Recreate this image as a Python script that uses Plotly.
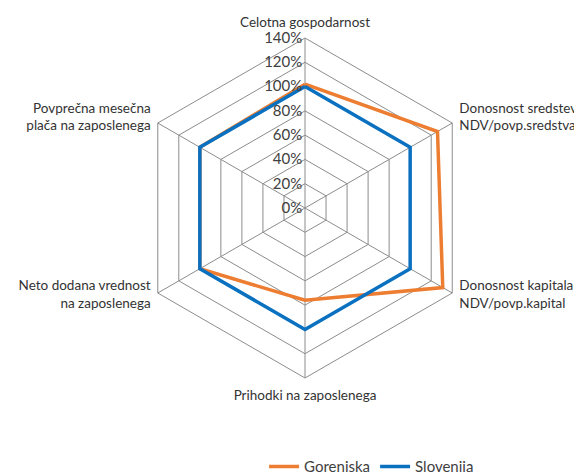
import plotly.graph_objects as go

NB = "\u00a0"  # blank line helper to nudge multi-line tick labels vertically
categories = [
    "Celotna gospodarnost",
    NB + "<br>Donosnost sredstev-<br>NDV/povp.sredstva",
    "Donosnost kapitala-<br>NDV/povp.kapital<br>" + NB + "<br>" + NB + "<br>" + NB,
    "Prihodki na zaposlenega",
    "Neto dodana vrednost<br>na zaposlenega<br>" + NB + "<br>" + NB + "<br>" + NB,
    NB + "<br>Povprečna mesečna<br>plača na zaposlenega",
]
gorenjska = [102, 126, 131, 76, 100, 100]
slovenija = [100, 100, 100, 100, 100, 100]

def closed(v):
    return v + v[:1]

fig = go.Figure()
fig.add_trace(go.Scatterpolar(
    r=closed(gorenjska), theta=closed(categories), mode="lines", name="Gorenjska",
    line=dict(color="#ED7D31", width=3.5),
))
fig.add_trace(go.Scatterpolar(
    r=closed(slovenija), theta=closed(categories), mode="lines", name="Slovenija",
    line=dict(color="#0A70C0", width=3.5),
))

# page body adds an 8px offset, so place the polar area 8px up/left
W, H = 582, 472
cx, cy, R = 297, 200, 170
fig.update_layout(
    width=W, height=H,
    margin=dict(l=0, r=0, t=0, b=0, autoexpand=False),
    paper_bgcolor="white",
    font=dict(family="Lato, Open Sans, sans-serif", size=14, color="#404040"),
    polar=dict(
        domain=dict(x=[(cx - R) / W, (cx + R) / W], y=[(H - cy - R) / H, (H - cy + R) / H]),
        gridshape="linear",
        bgcolor="white",
        radialaxis=dict(
            range=[0, 140], dtick=20, ticksuffix="%", angle=90, tickangle=90,
            side="counterclockwise",
            showline=False, gridcolor="#8c8c8c", gridwidth=1, ticks="",
            tickfont=dict(size=15, color="#404040"),
        ),
        angularaxis=dict(
            rotation=90, direction="clockwise", showline=True,
            linecolor="#8c8c8c", linewidth=1, gridcolor="#8c8c8c",
            ticks="outside", ticklen=5, tickcolor="rgba(0,0,0,0)",
            tickfont=dict(size=13.5, color="#333333"),
        ),
    ),
    legend=dict(
        orientation="h", x=0.44, xanchor="left", y=0.028, yanchor="middle",
        itemwidth=30,
        font=dict(size=15, color="#404040"), bgcolor="rgba(0,0,0,0)",
    ),
)

fig.write_html("out.html")
